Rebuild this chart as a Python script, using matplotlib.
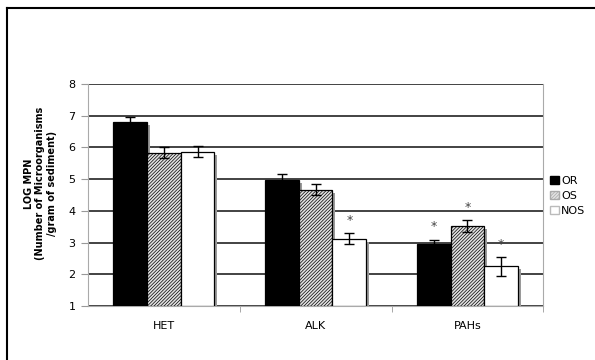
import matplotlib.pyplot as plt
from matplotlib.patches import Patch
from matplotlib.transforms import offset_copy
import numpy as np

# log MPN counts per medium, with standard errors
groups = ['HET', 'ALK', 'PAHs']
series = ['OR', 'OS', 'NOS']
or_vals = [6.80, 4.98, 2.94]
os_vals = [5.83, 4.67, 3.52]
nos_vals = [5.86, 3.12, 2.25]
or_err = [0.17, 0.17, 0.15]
os_err = [0.17, 0.18, 0.19]
nos_err = [0.17, 0.18, 0.29]
# significant differences marked with *
or_star = [False, False, True]
os_star = [False, False, True]
nos_star = [False, True, True]

plt.rcParams['hatch.color'] = '#6e6e6e'
plt.rcParams['hatch.linewidth'] = 0.5

fig = plt.figure(figsize=(5.95, 3.6), dpi=100)
ax = fig.add_axes([0.148, 0.15, 0.765, 0.6167])

# outer frame (only left and top edges are inside the canvas)
fig.add_artist(plt.Line2D([0.011, 0.011], [0, 0.977], transform=fig.transFigure,
                          color='black', lw=1.5))
fig.add_artist(plt.Line2D([0.011, 1.0], [0.977, 0.977], transform=fig.transFigure,
                          color='black', lw=1.5))

x = np.arange(len(groups))
w = 0.222
shadow_tr = offset_copy(ax.transData, fig=fig, x=3, y=-3, units='dots')

styles = [
    dict(vals=or_vals, err=or_err, star=or_star, face='black', hatch=None),
    dict(vals=os_vals, err=os_err, star=os_star, face='#e2e2e2', hatch='//////////'),
    dict(vals=nos_vals, err=nos_err, star=nos_star, face='white', hatch=None),
]

for i, s in enumerate(styles):
    pos = x + (i - 1) * w
    heights = np.array(s['vals']) - 1
    # drop shadow behind each bar
    ax.bar(pos, heights, w, bottom=1, color='#9a9a9a', linewidth=0,
           transform=shadow_tr, zorder=2)
    ax.bar(pos, heights, w, bottom=1, color=s['face'], edgecolor='black',
           linewidth=0.9, hatch=s['hatch'], zorder=3)
    ax.errorbar(pos, s['vals'], yerr=s['err'], fmt='none', ecolor='black',
                elinewidth=1, capsize=3.5, capthick=1, zorder=4)
    for p, v, e, st in zip(pos, s['vals'], s['err'], s['star']):
        if st:
            ax.text(p, v + e + 0.2, '*', ha='center', va='bottom',
                    fontsize=9, color='#444444', zorder=5)

ax.set_xlim(-0.5, 2.5)
ax.set_ylim(1, 8)
ax.set_yticks(range(1, 9))
ax.yaxis.grid(True, color='#222222', linewidth=1.2, zorder=0)
ax.set_axisbelow(True)

ax.set_xticks(x)
ax.set_xticklabels(groups, fontsize=8)
ax.set_xticks([0.5, 1.5, 2.5], minor=True)
ax.tick_params(axis='x', which='major', length=0, pad=11)
ax.tick_params(axis='x', which='minor', length=4, color='#999999')
ax.tick_params(axis='y', length=5, color='#999999', labelsize=8, pad=4)

for side in ['left', 'bottom', 'right']:
    ax.spines[side].set_color('#aaaaaa')
ax.spines['top'].set_visible(False)

fig.text(0.068, 0.49, 'LOG MPN\n(Number of Microorganisms\n/gram of sediment)',
         rotation=90, ha='center', va='center', fontsize=7, fontweight='bold',
         linespacing=1.15)

handles = [Patch(facecolor='black', edgecolor='black'),
           Patch(facecolor='#e2e2e2', edgecolor='#aaaaaa', hatch='//////////'),
           Patch(facecolor='white', edgecolor='#bbbbbb')]
fig.legend(handles, series, loc='center left', bbox_to_anchor=(0.925, 0.455),
           frameon=False, fontsize=8, handlelength=0.75, handleheight=0.75,
           handletextpad=0.2, labelspacing=0.45, borderpad=0, borderaxespad=0)

fig.savefig('out.png', dpi=100)
